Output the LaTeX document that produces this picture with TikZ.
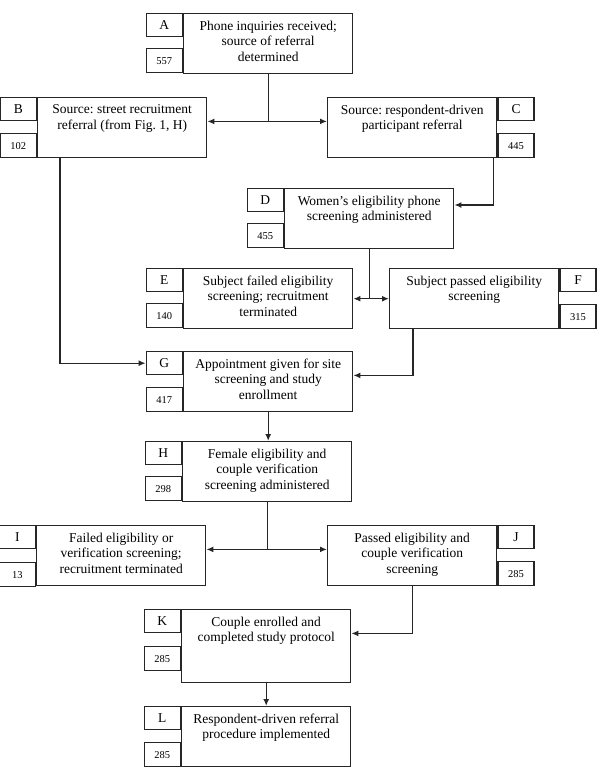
\documentclass[tikz,border=0pt]{standalone}
\usepackage{fontspec}
\setmainfont{Liberation Serif}
\usetikzlibrary{arrows.meta,positioning}

\newcommand{\stagetext}[2][60pt]{\parbox[t][#1][t]{169pt}{\centering\frenchspacing\vspace*{7pt}#2}}

\begin{document}
\begin{tikzpicture}[x=1pt,y=-1pt, line width=1.4pt, draw=black!85, >={Latex[length=7pt,width=6pt]},
  stage/.style={draw, inner sep=0pt, anchor=north west, font=\fontsize{13.5}{15.5}\selectfont},
  tag/.style={draw, minimum width=36pt, minimum height=23pt, inner sep=0pt, font=\fontsize{13.5}{15}\selectfont},
  count/.style={draw, minimum width=36pt, minimum height=24pt, inner sep=0pt, font=\fontsize{10.5}{12}\selectfont}]
\useasboundingbox (0,0) rectangle (600,774);
% main boxes
\node[stage] (A) at (183,13) {\stagetext{Phone inquiries received;\\ source of referral\\ determined}};
\node[stage] (B) at (37,97) {\stagetext{Source: street recruitment\\ referral (from Fig. 1, H)}};
\node[stage] (C) at (327,97) {\stagetext{Source: respondent-driven\\ participant referral}};
\node[stage] (D) at (284,188) {\stagetext{Women’s eligibility phone\\ screening administered}};
\node[stage] (E) at (183,268) {\stagetext{Subject failed eligibility\\ screening; recruitment\\ terminated}};
\node[stage] (F) at (389,268) {\stagetext{Subject passed eligibility\\ screening}};
\node[stage] (G) at (183,351) {\stagetext{Appointment given for site\\ screening and study\\ enrollment}};
\node[stage] (H) at (182,441) {\stagetext{Female eligibility and\\ couple verification\\ screening administered}};
\node[stage] (I) at (36,525) {\stagetext{Failed eligibility or\\ verification screening;\\ recruitment terminated}};
\node[stage] (J) at (327,525) {\stagetext{Passed eligibility and\\ couple verification\\ screening}};
\node[stage] (K) at (181,609) {\stagetext[73pt]{Couple enrolled and\\ completed study protocol}};
\node[stage] (L) at (181,706) {\stagetext{Respondent-driven referral\\ procedure implemented}};
% letter and count tags
\node[tag, anchor=north east] (Atag) at (A.north west) {A};
\node[count, anchor=north east] (Anum) at ([yshift=-35pt]A.north west) {557};
\node[tag, anchor=north east] (Btag) at (B.north west) {B};
\node[count, anchor=north east] (Bnum) at ([yshift=-36pt]B.north west) {102};
\node[tag, anchor=north west] (Ctag) at (C.north east) {C};
\node[count, anchor=north west] (Cnum) at ([yshift=-36pt]C.north east) {445};
\node[tag, anchor=north east] (Dtag) at (D.north west) {D};
\node[count, anchor=north east] (Dnum) at ([yshift=-35pt]D.north west) {455};
\node[tag, anchor=north east] (Etag) at (E.north west) {E};
\node[count, anchor=north east] (Enum) at ([yshift=-35pt]E.north west) {140};
\node[tag, anchor=north west] (Ftag) at (F.north east) {F};
\node[count, anchor=north west] (Fnum) at ([yshift=-36pt]F.north east) {315};
\node[tag, anchor=north east] (Gtag) at (G.north west) {G};
\node[count, anchor=north east] (Gnum) at ([yshift=-36pt]G.north west) {417};
\node[tag, anchor=north east] (Htag) at (H.north west) {H};
\node[count, anchor=north east] (Hnum) at ([yshift=-35pt]H.north west) {298};
\node[tag, anchor=north east] (Itag) at (I.north west) {I};
\node[count, anchor=north east] (Inum) at ([yshift=-37pt]I.north west) {13};
\node[tag, anchor=north west] (Jtag) at (J.north east) {J};
\node[count, anchor=north west] (Jnum) at ([yshift=-36pt]J.north east) {285};
\node[tag, anchor=north east] (Ktag) at (K.north west) {K};
\node[count, anchor=north east] (Knum) at ([yshift=-37pt]K.north west) {285};
\node[tag, anchor=north east] (Ltag) at (L.north west) {L};
\node[count, anchor=north east] (Lnum) at ([yshift=-36pt]L.north west) {285};
% connectors
\coordinate (abc) at (A.south |- Btag.south);
\draw (A.south) -- (abc);
\draw[->] (abc) -- (B.east |- abc);
\draw[->] (abc) -- (C.west |- abc);
\draw[->] ([xshift=-4pt]C.south east) |- ([yshift=-17pt]D.north east);
\coordinate (def) at (D.south |- E.east);
\draw (D.south) -- (def);
\draw[->] (def) -- (E.east);
\draw[->] (def) -- (F.west);
\draw[->] ([xshift=23pt]B.south west) |- (Gtag.west);
\draw[->] ([xshift=24pt]F.south west) |- (G.east |- Gtag.south);
\draw[->] (G.south) -- (G.south |- H.north);
\coordinate (hij) at (H.south |- Itag.south);
\draw (H.south) -- (hij);
\draw[->] (hij) -- (I.east |- hij);
\draw[->] (hij) -- (J.west |- hij);
\draw[->] (J.south) |- (K.east |- Ktag.south);
\draw[->] (K.south) -- (K.south |- L.north);
\end{tikzpicture}
\end{document}
